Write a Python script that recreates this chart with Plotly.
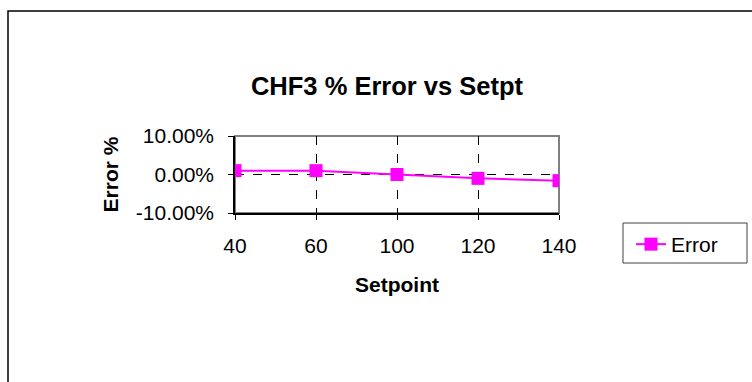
import plotly.graph_objects as go

# Data
setpoints = ["40", "60", "100", "120", "140"]
error_pct = [0.010, 0.010, 0.000, -0.010, -0.016]
y_ticks = [-0.10, 0.0, 0.10]
y_tick_text = ["-10.00%", "0.00%", "10.00%"]

W, H = 752, 382
L, R, T, B = 235, 193, 136, 169
pw, ph = W - L - R, H - T - B


def px(x):
    return (x - L) / pw


def py(y):
    return (H - B - y) / ph


MAG = "#FF00FF"
FONT = "Liberation Sans, Arial, sans-serif"

fig = go.Figure()
fig.add_trace(go.Scatter(
    x=setpoints, y=error_pct, name="Error", mode="lines+markers",
    line=dict(color=MAG, width=2),
    marker=dict(symbol="square", size=13, color=MAG, line=dict(color=MAG, width=0)),
))

fig.update_layout(
    width=W, height=H,
    margin=dict(l=L, r=R, t=T, b=B, pad=0),
    paper_bgcolor="white", plot_bgcolor="white",
    font=dict(family=FONT, size=21, color="black"),
    title=dict(text="<b>CHF3 % Error vs Setpt</b>", font=dict(size=25.5, family=FONT),
               x=px(387), xanchor="center", xref="paper",
               y=1 - 86 / H, yanchor="middle", yref="container"),
    showlegend=True,
    legend=dict(x=px(631), y=py(224), xanchor="left", yanchor="top",
                borderwidth=0, bgcolor="rgba(0,0,0,0)",
                font=dict(size=21, family=FONT)),
    xaxis=dict(
        type="category", range=[0, 4],
        showline=True, linecolor="black", linewidth=1.5,
        ticks="outside", ticklen=5, tickcolor="black", tickwidth=1,
        ticklabelstandoff=8,
        showgrid=True, gridcolor="black", gridwidth=1, griddash="dash",
        title=dict(text="<b>Setpoint</b>", font=dict(size=21), standoff=21),
        zeroline=False,
    ),
    yaxis=dict(
        range=[-0.10, 0.10], tickvals=y_ticks, ticktext=y_tick_text,
        showline=True, linecolor="black", linewidth=1.5,
        ticks="outside", ticklen=5, tickcolor="black", tickwidth=1,
        ticklabelstandoff=10,
        showgrid=True, gridcolor="black", gridwidth=1, griddash="dash",
        title=dict(text="<b>Error %</b>", font=dict(size=21), standoff=11),
        zeroline=False,
    ),
    shapes=[
        # plot area frame (top/right in gray)
        dict(type="rect", xref="paper", yref="paper", x0=0, x1=1, y0=0, y1=1,
             line=dict(color="#808080", width=2), layer="below"),
        # outer chart frame
        dict(type="rect", xref="paper", yref="paper",
             x0=px(8), x1=px(W + 10), y0=py(H + 10), y1=py(11),
             line=dict(color="black", width=1.5), layer="below"),
        # legend box
        dict(type="rect", xref="paper", yref="paper",
             x0=px(623), x1=px(747), y0=py(263), y1=py(223),
             line=dict(color="#404040", width=1), layer="below"),
    ],
)

fig.write_html("out.html")
